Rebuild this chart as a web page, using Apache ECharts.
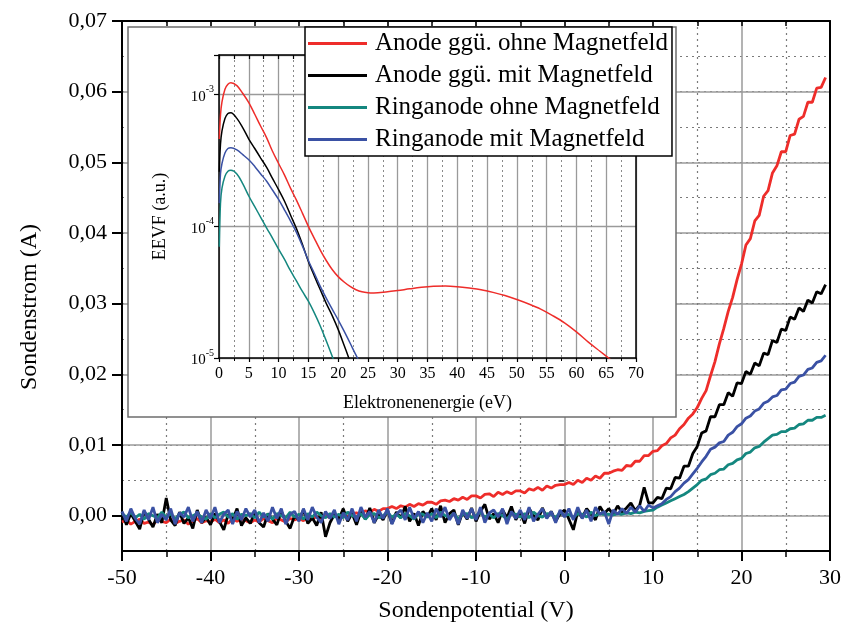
<!DOCTYPE html>
<html><head><meta charset="utf-8">
<script src="https://cdn.jsdelivr.net/npm/echarts@6/dist/echarts.min.js"></script>
<style>html,body{margin:0;padding:0;background:#fff}#c{width:844px;height:630px}</style>
</head><body><div id="c"></div>
<script>
// ---------- main chart data (probe potential in V, probe current in A) ----------
const potential = [
-50,-49.5,-49,-48.5,-48,-47.5,-47,-46.5,-46,-45.5,
-45,-44.5,-44,-43.5,-43,-42.5,-42,-41.5,-41,-40.5,
-40,-39.5,-39,-38.5,-38,-37.5,-37,-36.5,-36,-35.5,
-35,-34.5,-34,-33.5,-33,-32.5,-32,-31.5,-31,-30.5,
-30,-29.5,-29,-28.5,-28,-27.5,-27,-26.5,-26,-25.5,
-25,-24.5,-24,-23.5,-23,-22.5,-22,-21.5,-21,-20.5,
-20,-19.5,-19,-18.5,-18,-17.5,-17,-16.5,-16,-15.5,
-15,-14.5,-14,-13.5,-13,-12.5,-12,-11.5,-11,-10.5,
-10,-9.5,-9,-8.5,-8,-7.5,-7,-6.5,-6,-5.5,
-5,-4.5,-4,-3.5,-3,-2.5,-2,-1.5,-1,-0.5,
0,0.5,1,1.5,2,2.5,3,3.5,4,4.5,
5,5.5,6,6.5,7,7.5,8,8.5,9,9.5,
10,10.5,11,11.5,12,12.5,13,13.5,14,14.5,
15,15.5,16,16.5,17,17.5,18,18.5,19,19.5,
20,20.5,21,21.5,22,22.5,23,23.5,24,24.5,
25,25.5,26,26.5,27,27.5,28,28.5,29,29.5];

const anodeOhne = [
-0.0009,-0.0006,-0.0012,-0.0008,-0.0005,-0.0011,-0.0009,-0.0013,-0.0006,-0.0008,
-0.0010,-0.0005,-0.0011,-0.0008,-0.0006,-0.0012,-0.0008,-0.0004,-0.0010,-0.0007,
-0.0009,-0.0005,-0.0010,-0.0006,-0.0011,-0.0004,-0.0008,-0.0005,-0.0007,-0.0010,
-0.0006,-0.0009,-0.0004,-0.0007,-0.0010,-0.0003,-0.0006,-0.0009,-0.0004,-0.0006,
-0.0004,-0.0007,-0.0002,-0.0005,-0.0001,-0.0004,0.0000,-0.0003,0.0001,-0.0002,
0.0001,-0.0001,0.0003,0.0004,0.0002,0.0007,0.0005,0.0009,0.0006,0.0010,
0.0010,0.0013,0.0010,0.0014,0.0012,0.0016,0.0013,0.0017,0.0015,0.0019,
0.0019,0.0016,0.0021,0.0022,0.0020,0.0024,0.0022,0.0026,0.0023,0.0028,
0.0028,0.0025,0.0030,0.0031,0.0027,0.0033,0.0030,0.0034,0.0031,0.0035,
0.0035,0.0032,0.0038,0.0036,0.0040,0.0036,0.0042,0.0039,0.0043,0.0044,
0.0044,0.0047,0.0044,0.0050,0.0047,0.0053,0.0050,0.0056,0.0053,0.0060,
0.0060,0.0063,0.0065,0.0064,0.0071,0.0070,0.0077,0.0077,0.0085,0.0085,
0.0091,0.0092,0.0099,0.0102,0.0110,0.0114,0.0123,0.0129,0.0138,0.0144,
0.0153,0.0166,0.0177,0.0198,0.0218,0.0243,0.0265,0.0289,0.0309,0.0334,
0.0356,0.0383,0.0392,0.0417,0.0425,0.0452,0.0460,0.0485,0.0495,0.0515,
0.0515,0.0538,0.0540,0.0561,0.0565,0.0585,0.0585,0.0605,0.0606,0.0620];

const anodeMit = [
0.0005,-0.0013,0.0003,-0.0008,-0.0019,0.0006,-0.0005,-0.0016,0.0002,-0.0010,
0.0025,-0.0006,-0.0014,0.0005,-0.0011,-0.0003,-0.0018,0.0008,-0.0010,-0.0002,
-0.0013,0.0003,-0.0008,-0.0020,0.0002,-0.0006,0.0010,-0.0014,-0.0003,-0.0011,
0.0005,-0.0010,-0.0016,0.0003,-0.0005,-0.0013,0.0006,-0.0008,-0.0018,0.0000,
-0.0006,0.0008,-0.0011,-0.0003,-0.0014,0.0005,-0.0030,-0.0010,0.0002,-0.0005,
0.0010,-0.0008,0.0003,-0.0013,0.0006,-0.0005,0.0011,-0.0010,0.0002,-0.0006,
0.0008,-0.0011,0.0005,-0.0003,0.0013,-0.0008,0.0003,-0.0014,0.0006,-0.0002,
0.0010,-0.0006,0.0014,-0.0010,0.0003,0.0008,-0.0013,0.0005,-0.0005,0.0011,
-0.0008,0.0006,0.0016,-0.0005,0.0003,-0.0010,0.0008,-0.0003,0.0013,-0.0006,
0.0005,-0.0011,0.0010,0.0000,-0.0006,0.0011,-0.0003,0.0006,-0.0008,0.0003,
0.0008,-0.0005,-0.0020,0.0006,-0.0003,0.0010,0.0002,-0.0006,0.0013,0.0003,
0.0010,0.0002,0.0014,0.0005,0.0011,0.0018,0.0007,0.0015,0.0040,0.0018,
0.0018,0.0026,0.0024,0.0039,0.0038,0.0054,0.0053,0.0070,0.0070,0.0088,
0.0098,0.0117,0.0120,0.0140,0.0140,0.0157,0.0157,0.0174,0.0169,0.0188,
0.0187,0.0204,0.0200,0.0216,0.0212,0.0230,0.0228,0.0248,0.0245,0.0264,
0.0262,0.0281,0.0278,0.0294,0.0289,0.0305,0.0301,0.0317,0.0314,0.0327];

const ringOhne = [
0.0003,-0.0002,0.0005,-0.0003,0.0002,-0.0005,0.0003,0.0000,-0.0003,0.0005,
-0.0002,0.0003,-0.0005,0.0002,0.0005,-0.0003,0.0000,0.0003,-0.0002,-0.0005,
0.0003,-0.0003,0.0002,0.0005,-0.0002,0.0003,-0.0005,0.0002,0.0000,0.0003,
-0.0003,0.0005,-0.0002,0.0002,-0.0005,0.0003,0.0000,-0.0003,0.0005,-0.0002,
0.0002,-0.0005,0.0003,-0.0002,0.0005,0.0000,-0.0003,0.0003,-0.0002,0.0002,
-0.0003,0.0005,0.0000,-0.0002,0.0003,-0.0005,0.0002,0.0003,-0.0003,0.0000,
0.0005,-0.0002,0.0002,-0.0003,0.0003,0.0000,-0.0005,0.0003,0.0002,-0.0002,
0.0003,-0.0003,0.0005,0.0000,-0.0002,0.0003,-0.0005,0.0002,0.0003,-0.0003,
0.0000,0.0005,-0.0002,0.0002,-0.0003,0.0003,0.0000,-0.0005,0.0003,0.0002,
-0.0002,0.0003,-0.0003,0.0005,0.0000,-0.0002,0.0003,0.0002,-0.0003,0.0005,
0.0000,0.0002,-0.0003,0.0003,0.0002,-0.0002,0.0005,0.0000,0.0003,0.0002,
0.0002,0.0001,0.0003,0.0002,0.0004,0.0003,0.0005,0.0004,0.0006,0.0007,
0.0008,0.0012,0.0015,0.0018,0.0021,0.0024,0.0027,0.0030,0.0034,0.0039,
0.0044,0.0050,0.0052,0.0058,0.0060,0.0065,0.0066,0.0072,0.0074,0.0079,
0.0081,0.0088,0.0090,0.0096,0.0098,0.0104,0.0109,0.0114,0.0115,0.0119,
0.0119,0.0123,0.0124,0.0129,0.0130,0.0135,0.0135,0.0139,0.0139,0.0142];

const ringMit = [
0.0006,-0.0008,0.0010,-0.0004,-0.0012,0.0008,-0.0006,0.0012,-0.0010,0.0002,
-0.0006,0.0010,-0.0012,0.0004,-0.0002,0.0012,-0.0008,0.0006,-0.0010,0.0008,
-0.0004,0.0012,-0.0010,0.0002,0.0008,-0.0012,0.0006,-0.0006,0.0010,-0.0002,
0.0008,-0.0010,0.0004,-0.0008,0.0012,-0.0004,0.0010,-0.0012,0.0002,0.0006,
-0.0008,0.0010,-0.0006,0.0012,-0.0002,-0.0010,0.0006,-0.0004,0.0008,-0.0012,
0.0004,-0.0006,0.0010,-0.0008,0.0012,-0.0002,0.0006,-0.0010,0.0008,-0.0004,
0.0010,-0.0012,0.0002,0.0008,-0.0006,0.0012,-0.0004,0.0006,-0.0010,0.0004,
-0.0008,0.0010,-0.0002,0.0012,-0.0006,0.0004,-0.0012,0.0008,-0.0004,0.0010,
-0.0006,0.0012,-0.0010,0.0004,0.0008,-0.0002,0.0010,-0.0012,0.0006,-0.0004,
0.0008,-0.0006,0.0012,-0.0008,0.0002,0.0010,-0.0004,0.0006,-0.0010,0.0008,
-0.0002,0.0010,-0.0006,0.0012,-0.0004,0.0008,-0.0008,0.0012,0.0002,0.0006,
-0.0012,0.0008,0.0002,0.0010,0.0003,0.0012,0.0005,0.0014,0.0006,0.0015,
0.0011,0.0014,0.0017,0.0023,0.0027,0.0034,0.0039,0.0046,0.0051,0.0059,
0.0067,0.0076,0.0084,0.0094,0.0097,0.0103,0.0105,0.0114,0.0118,0.0126,
0.0130,0.0138,0.0141,0.0148,0.0151,0.0159,0.0162,0.0168,0.0170,0.0178,
0.0179,0.0187,0.0189,0.0197,0.0199,0.0207,0.0209,0.0217,0.0219,0.0227];

const yMajorTicks = [0, 0.01, 0.02, 0.03, 0.04, 0.05, 0.06, 0.07];

// ---------- inset data (electron energy in eV, EEVF in a.u.) ----------
const energyCommon = [0.05,0.25,0.5,1,1.5,2,3,4,5,6,7,8,9,10,11,12,13,14,15,16,17,18,19,20,21,22,23,24];
const eevfRingOhne = [7e-5,1.5e-4,1.95e-4,2.4e-4,2.62e-4,2.66e-4,2.5e-4,2.1e-4,1.7e-4,1.41e-4,1.17e-4,9.7e-5,8.1e-5,6.7e-5,5.6e-5,4.6e-5,3.85e-5,3.2e-5,2.7e-5,2.2e-5,1.75e-5,1.35e-5,1.03e-5,7.8e-6,null,null,null,null];
const eevfRingMit = [1.5e-4,2.5e-4,3.0e-4,3.6e-4,3.9e-4,3.95e-4,3.8e-4,3.5e-4,3.2e-4,2.85e-4,2.5e-4,2.2e-4,1.88e-4,1.6e-4,1.33e-4,1.1e-4,9.0e-5,7.1e-5,5.5e-5,4.4e-5,3.5e-5,2.85e-5,2.35e-5,1.95e-5,1.6e-5,1.3e-5,1.05e-5,8.6e-6];
const eevfAnodeMit = [2.6e-4,4.2e-4,5.3e-4,6.6e-4,7.2e-4,7.3e-4,6.6e-4,5.6e-4,4.6e-4,3.9e-4,3.3e-4,2.8e-4,2.3e-4,1.9e-4,1.55e-4,1.22e-4,9.6e-5,7.3e-5,5.4e-5,4.2e-5,3.3e-5,2.6e-5,2.1e-5,1.65e-5,1.25e-5,9.4e-6,null,null];
const energyAnodeOhne = [0.05,0.25,0.5,1,1.5,2,3,4,5,6,7,8,9,10,11,12,13,14,15,16,17,18,19,20,21,22,23,24,25,26,28,30,32,34,36,38,40,42,44,46,48,50,52,54,56,58,60,62,64,66];
const eevfAnodeOhne = [4.6e-4,7.0e-4,8.8e-4,1.1e-3,1.2e-3,1.23e-3,1.17e-3,1.02e-3,8.7e-4,7.1e-4,5.75e-4,4.7e-4,3.7e-4,3.0e-4,2.45e-4,1.95e-4,1.58e-4,1.26e-4,1.0e-4,8.1e-5,6.6e-5,5.5e-5,4.7e-5,4.15e-5,3.78e-5,3.5e-5,3.3e-5,3.18e-5,3.13e-5,3.12e-5,3.17e-5,3.25e-5,3.35e-5,3.44e-5,3.5e-5,3.52e-5,3.48e-5,3.4e-5,3.3e-5,3.15e-5,2.98e-5,2.78e-5,2.57e-5,2.35e-5,2.1e-5,1.85e-5,1.58e-5,1.32e-5,1.12e-5,9.5e-6];
const insetMinorLevels = [2e-5,3e-5,4e-5,5e-5,6e-5,7e-5,8e-5,9e-5,2e-4,3e-4,4e-4,5e-4,6e-4,7e-4,8e-4,9e-4];

const names = ['Anode ggü. ohne Magnetfeld','Anode ggü. mit Magnetfeld','Ringanode ohne Magnetfeld','Ringanode mit Magnetfeld'];
const colors = ['#ee2d2a','#000000','#14877f','#3a51a4'];

const FONT = '"Liberation Serif", "Times New Roman", serif';
const pair = (xs, ys) => xs.map((x, i) => [x, ys[i]]);
const gridMajor = {color:'#9a9a9a', width:1.5};
const gridMinor = {color:'#7a7a7a', width:1.2, type:[2,4]};

const mainSets = [anodeOhne, anodeMit, ringOhne, ringMit];
const insetSets = [[energyAnodeOhne, eevfAnodeOhne],[energyCommon, eevfAnodeMit],[energyCommon, eevfRingOhne],[energyCommon, eevfRingMit]];

const series = [];
mainSets.forEach((ys, k) => series.push({
  name: names[k], type:'line', xAxisIndex:0, yAxisIndex:0, data: pair(potential, ys),
  symbol:'none', showSymbol:false, color: colors[k], lineStyle:{width:2.8, color: colors[k]}, z:2, clip:true
}));
series.push({
  name:'_grid', type:'line', xAxisIndex:2, yAxisIndex:3, data:[], z:4, silent:true,
  markLine:{silent:true, symbol:['none','none'], label:{show:false}, animation:false,
    lineStyle:{color:'#8a8a8a', width:1, type:[2,3]},
    data: insetMinorLevels.map(v => ({yAxis: v}))}
});
insetSets.forEach((s, k) => series.push({
  name: names[k], type:'line', xAxisIndex:2, yAxisIndex:3, data: pair(s[0], s[1]),
  symbol:'none', showSymbol:false, smooth:0.35, color: colors[k], lineStyle:{width:1.5, color: colors[k]}, z:5, clip:true
}));

const chart = echarts.init(document.getElementById('c'));
chart.setOption({
  animation:false,
  backgroundColor:'#fff',
  textStyle:{fontFamily: FONT, color:'#000'},
  grid:[
    {left:122, right:11, top:21, bottom:79},
    {left:219, right:208, top:55, bottom:272}
  ],
  graphic:{elements:[{type:'rect', z:3, silent:true, shape:{x:128, y:27, width:548, height:390},
    style:{fill:'#fff', stroke:'#6e6e6e', lineWidth:1.5}}]},
  legend:{data:names, orient:'vertical', left:305, top:27, icon:'rect', itemWidth:59, itemHeight:3, itemGap:7,
    padding:[4,4,4,3], backgroundColor:'#fff', borderColor:'#000', borderWidth:1.5, selectedMode:false, z:6,
    textStyle:{fontFamily:FONT, fontSize:25, color:'#000', padding:[0,0,0,3]}},
  xAxis:[
    {gridIndex:0, type:'value', min:-50, max:30, interval:10, position:'bottom',
     name:'Sondenpotential (V)', nameLocation:'middle', nameGap:48, nameTextStyle:{fontSize:24, fontFamily:FONT, color:'#000'},
     axisLine:{show:true, onZero:false, lineStyle:{color:'#000', width:2}},
     axisTick:{show:true, inside:false, length:10, lineStyle:{color:'#000', width:2}},
     minorTick:{show:true, splitNumber:2, length:6, lineStyle:{color:'#000', width:1.5}},
     axisLabel:{fontSize:22, fontFamily:FONT, color:'#000', margin:16},
     splitLine:{show:true, lineStyle:gridMajor},
     minorSplitLine:{show:true, lineStyle:gridMinor}},
    {gridIndex:0, type:'value', min:-50, max:30, interval:5, position:'top',
     axisLine:{show:true, onZero:false, lineStyle:{color:'#000', width:2}},
     axisTick:{show:true, inside:true, length:5, lineStyle:{color:'#000', width:1.5}},
     axisLabel:{show:false}, splitLine:{show:false}},
    {gridIndex:1, type:'value', min:0, max:70, interval:5, position:'bottom', z:4,
     name:'Elektronenenergie (eV)', nameLocation:'middle', nameGap:36, nameTextStyle:{fontSize:18, fontFamily:FONT, color:'#000'},
     axisLine:{show:true, onZero:false, lineStyle:{color:'#000', width:1.5}},
     axisTick:{show:true, inside:false, length:4, lineStyle:{color:'#000', width:1.2}},
     minorTick:{show:true, splitNumber:2, length:3, lineStyle:{color:'#000', width:1}},
     axisLabel:{fontSize:16, fontFamily:FONT, color:'#000', margin:8},
     splitLine:{show:true, lineStyle:{color:'#9a9a9a', width:1.3}},
     minorSplitLine:{show:true, lineStyle:{color:'#8a8a8a', width:1, type:[2,3]}}},
    {gridIndex:1, type:'value', min:0, max:70, interval:2.5, position:'top', z:4,
     axisLine:{show:true, onZero:false, lineStyle:{color:'#000', width:1.5}},
     axisTick:{show:true, inside:true, length:4, lineStyle:{color:'#000', width:1.2}},
     axisLabel:{show:false}, splitLine:{show:false}}
  ],
  yAxis:[
    {gridIndex:0, type:'value', min:-0.005, max:0.07, position:'left',
     name:'Sondenstrom (A)', nameLocation:'middle', nameGap:80,
     nameTextStyle:{fontSize:24, fontFamily:FONT, color:'#000', padding:[0,42,0,0]},
     axisLine:{show:true, onZero:false, lineStyle:{color:'#000', width:2}},
     axisTick:{show:true, inside:false, length:10, lineStyle:{color:'#000', width:2}, customValues:yMajorTicks},
     axisLabel:{customValues:yMajorTicks, fontSize:22, fontFamily:FONT, color:'#000', margin:15,
       formatter: v => v.toFixed(2).replace('.', ',')},
     splitLine:{show:true, lineStyle:gridMajor}},
    {gridIndex:0, type:'value', min:-0.005, max:0.07, interval:0.005, position:'left', z:-1,
     axisLine:{show:false},
     axisTick:{show:true, inside:false, length:6, lineStyle:{color:'#000', width:1.5}},
     axisLabel:{show:false},
     splitLine:{show:true, lineStyle:gridMinor}},
    {gridIndex:0, type:'value', min:-0.005, max:0.07, position:'right',
     axisLine:{show:true, onZero:false, lineStyle:{color:'#000', width:2}},
     axisTick:{show:false}, axisLabel:{show:false}, splitLine:{show:false}},
    {gridIndex:1, type:'log', logBase:10, min:1e-5, max:2e-3, position:'left', z:4,
     name:'EEVF (a.u.)', nameLocation:'middle', nameGap:50,
     nameTextStyle:{fontSize:18, fontFamily:FONT, color:'#000', padding:[0,20,0,0]},
     axisLine:{show:true, onZero:false, lineStyle:{color:'#000', width:1.5}},
     axisTick:{show:true, inside:false, length:5, lineStyle:{color:'#000', width:1.2}},
     axisLabel:{margin:5, fontFamily:FONT, color:'#000',
       formatter: v => { const e = Math.round(Math.log10(v)); if (Math.abs(v/Math.pow(10,e) - 1) > 1e-6) return ''; return '{b|10}{s|' + e + '}'; },
       rich:{b:{fontSize:15, fontFamily:FONT, color:'#000', lineHeight:20, verticalAlign:'bottom'},
             s:{fontSize:10, fontFamily:FONT, color:'#000', lineHeight:10, verticalAlign:'top'}}},
     splitLine:{show:true, lineStyle:{color:'#9a9a9a', width:1.3}}},
    {gridIndex:1, type:'log', logBase:10, min:1e-5, max:2e-3, position:'right', z:4,
     axisLine:{show:true, onZero:false, lineStyle:{color:'#000', width:1.5}},
     axisTick:{show:false}, axisLabel:{show:false}, splitLine:{show:false}}
  ],
  series: series
});
</script></body></html>
